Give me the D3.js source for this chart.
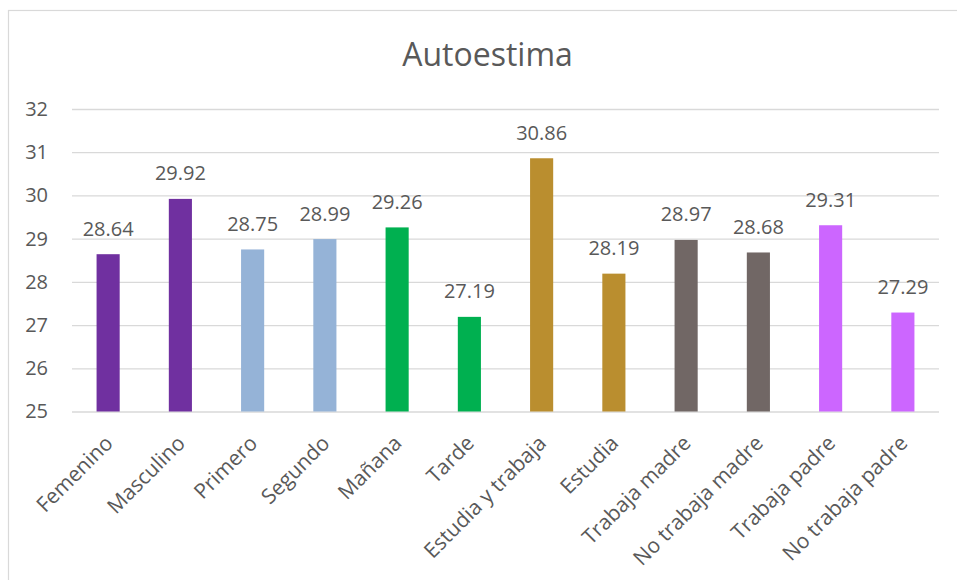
<!DOCTYPE html>
<html>
<head>
<meta charset="utf-8">
<script src="https://cdn.jsdelivr.net/npm/d3@7"></script>
<style>
  html, body { margin: 0; padding: 0; background: #fff; }
  svg { display: block; font-family: "Open Sans", sans-serif; }
</style>
</head>
<body>
<svg id="chart" width="957" height="580"></svg>
<script>
// Autoestima scores by group
const categories = ["Femenino", "Masculino", "Primero", "Segundo", "Mañana", "Tarde",
  "Estudia y trabaja", "Estudia", "Trabaja madre", "No trabaja madre", "Trabaja padre", "No trabaja padre"];
const values = [28.64, 29.92, 28.75, 28.99, 29.26, 27.19, 30.86, 28.19, 28.97, 28.68, 29.31, 27.29];
const barColors = ["#7030A0", "#7030A0", "#95B3D7", "#95B3D7", "#00B050", "#00B050",
  "#BA8E2F", "#BA8E2F", "#716765", "#716765", "#CC66FF", "#CC66FF"];
const yTicks = [25, 26, 27, 28, 29, 30, 31, 32];
const title = "Autoestima";

const svg = d3.select("#chart");
const textColor = "#595959";
const gridColor = "#D9D9D9";

// chart frame
svg.append("rect")
  .attr("x", 8.5).attr("y", 10.5)
  .attr("width", 1200).attr("height", 1200)
  .attr("fill", "none").attr("stroke", gridColor).attr("stroke-width", 1.2);

const plot = { left: 72, right: 939, top: 109, bottom: 411.5 };

const x = d3.scaleBand()
  .domain(categories)
  .range([plot.left, plot.right])
  .paddingInner(0.68)
  .paddingOuter(0.34);

const y = d3.scaleLinear()
  .domain([25, 32])
  .range([plot.bottom, plot.top]);

// title
svg.append("text")
  .attr("x", (plot.left + plot.right) / 2 - 18)
  .attr("y", 65.5)
  .attr("text-anchor", "middle")
  .attr("font-size", 32)
  .attr("fill", textColor)
  .text(title);

// horizontal gridlines + y labels
const yAxis = d3.axisLeft(y)
  .tickValues(yTicks)
  .tickSize(-(plot.right - plot.left))
  .tickPadding(24)
  .tickFormat(d3.format("d"));

const gy = svg.append("g")
  .attr("transform", `translate(${plot.left},0)`)
  .call(yAxis);
gy.select(".domain").remove();
gy.selectAll(".tick line")
  .attr("stroke", gridColor)
  .attr("stroke-width", d => d === 25 ? 1.6 : 1.3);
gy.selectAll(".tick text")
  .attr("font-size", 20)
  .attr("fill", textColor)
  .attr("font-family", "'Open Sans', sans-serif");

// bars
svg.append("g").selectAll("rect")
  .data(values)
  .join("rect")
  .attr("x", (d, i) => x(categories[i]))
  .attr("y", d => y(d))
  .attr("width", x.bandwidth())
  .attr("height", d => y(25) - y(d))
  .attr("fill", (d, i) => barColors[i]);

// value labels
svg.append("g").selectAll("text")
  .data(values)
  .join("text")
  .attr("x", (d, i) => x(categories[i]) + x.bandwidth() / 2)
  .attr("y", d => y(d) - 18.5)
  .attr("text-anchor", "middle")
  .attr("font-size", 20)
  .attr("fill", textColor)
  .text(d => d.toFixed(2));

// category axis labels, rotated
const xAxis = d3.axisBottom(x).tickSize(0).tickPadding(0);
const gx = svg.append("g")
  .attr("transform", `translate(0,${plot.bottom})`)
  .call(xAxis);
gx.select(".domain").remove();
gx.selectAll(".tick text")
  .attr("font-size", 21)
  .attr("font-family", "'Open Sans', sans-serif")
  .attr("fill", textColor)
  .attr("text-anchor", "end")
  .attr("dy", null)
  .attr("transform", "translate(6,33) rotate(-45)");
</script>
</body>
</html>
